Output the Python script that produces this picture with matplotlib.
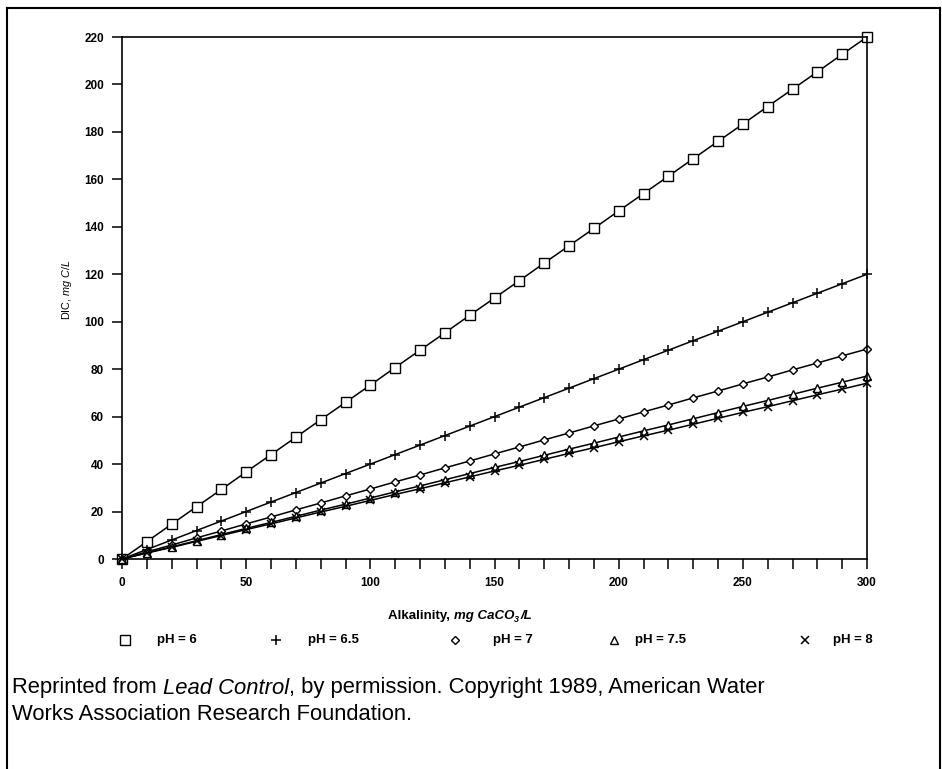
#!/usr/bin/env python3
"""DIC versus alkalinity at several pH values (line chart with markers)."""

import matplotlib

matplotlib.use("Agg")
import matplotlib.pyplot as plt
from matplotlib.lines import Line2D

plt.rcParams["font.family"] = ["Liberation Sans", "DejaVu Sans"]
plt.rcParams["mathtext.fontset"] = "custom"
plt.rcParams["mathtext.it"] = "Liberation Sans:italic"
plt.rcParams["mathtext.rm"] = "Liberation Sans"

# alkalinity, mg CaCO3/L
alkalinity = [0, 10, 20, 30, 40, 50, 60, 70, 80, 90, 100, 110, 120, 130, 140, 150,
              160, 170, 180, 190, 200, 210, 220, 230, 240, 250, 260, 270, 280, 290, 300]

# DIC, mg C/L
dic_ph6 = [0, 7.3, 14.7, 22.0, 29.3, 36.7, 44.0, 51.3, 58.7, 66.0, 73.3, 80.7, 88.0,
           95.3, 102.7, 110.0, 117.3, 124.7, 132.0, 139.3, 146.7, 154.0, 161.3, 168.7,
           176.0, 183.3, 190.7, 198.0, 205.3, 212.7, 220.0]
dic_ph65 = [0, 4.0, 8.0, 12.0, 16.0, 20.0, 24.0, 28.0, 32.0, 36.0, 40.0, 44.0, 48.0,
            52.0, 56.0, 60.0, 64.0, 68.0, 72.0, 76.0, 80.0, 84.0, 88.0, 92.0, 96.0,
            100.0, 104.0, 108.0, 112.0, 116.0, 120.0]
dic_ph7 = [0, 3.0, 5.9, 8.9, 11.8, 14.8, 17.7, 20.7, 23.6, 26.6, 29.5, 32.5, 35.4,
           38.4, 41.3, 44.3, 47.2, 50.2, 53.1, 56.1, 59.0, 62.0, 64.9, 67.9, 70.8,
           73.8, 76.7, 79.7, 82.6, 85.6, 88.5]
dic_ph75 = [0, 2.6, 5.1, 7.7, 10.3, 12.9, 15.4, 18.0, 20.6, 23.1, 25.7, 28.3, 30.8,
            33.4, 36.0, 38.6, 41.1, 43.7, 46.3, 48.8, 51.4, 54.0, 56.5, 59.1, 61.7,
            64.3, 66.8, 69.4, 72.0, 74.5, 77.1]
dic_ph8 = [0, 2.5, 4.9, 7.4, 9.9, 12.4, 14.8, 17.3, 19.8, 22.2, 24.7, 27.2, 29.6,
           32.1, 34.6, 37.1, 39.5, 42.0, 44.5, 46.9, 49.4, 51.9, 54.3, 56.8, 59.3,
           61.8, 64.2, 66.7, 69.2, 71.6, 74.1]

series_labels = ["pH = 6", "pH = 6.5", "pH = 7", "pH = 7.5", "pH = 8"]

W, H = 942, 769
fig = plt.figure(figsize=(W / 100, H / 100), dpi=100)


def fx(px):
    return px / W


def fy(py):
    return 1 - py / H


ax = fig.add_axes([fx(122), fy(559), fx(867 - 122), fy(37) - fy(559)])

styles = [
    dict(marker="s", ms=7, mfc="white", mew=1.0),
    dict(marker="+", ms=7, mew=1.1),
    dict(marker="D", ms=4.5, mfc="white", mew=1.0),
    dict(marker="^", ms=6, mfc="white", mew=1.0),
    dict(marker="x", ms=5.5, mew=1.1),
]
all_series = [dic_ph6, dic_ph65, dic_ph7, dic_ph75, dic_ph8]
for vals, st in zip(all_series, styles):
    ax.plot(alkalinity, vals, color="black", lw=1.1, mec="black", clip_on=False, **st)

ax.set_xlim(0, 300)
ax.set_ylim(0, 220)
ax.set_xticks(range(0, 301, 50))
ax.set_xticks(range(0, 301, 10), minor=True)
ax.set_yticks(range(0, 221, 20))
for sp in ax.spines.values():
    sp.set_linewidth(1.2)
ax.tick_params(axis="x", which="both", direction="out", length=7, width=1.1, pad=6)
ax.tick_params(axis="y", direction="out", length=7, width=1.1, pad=6)
for lbl in ax.get_xticklabels() + ax.get_yticklabels():
    lbl.set_fontsize(8.5)
    lbl.set_fontweight("bold")

# y label
fig.text(fx(67), fy(289), r"DIC, $mg\ C/L$", rotation=90, ha="center", va="center",
         fontsize=7.8)


def rich_text(parts, x, y, va="center"):
    """Place text pieces one after another starting at pixel (x, y)."""
    renderer = fig.canvas.get_renderer()
    cur = x
    for txt, kw in parts:
        dy = kw.pop("dy", 0)
        gap = kw.pop("gap", 0)
        t = fig.text(fx(cur), fy(y + dy), txt, ha="left", va=va, **kw)
        bb = t.get_window_extent(renderer=renderer)
        cur += bb.width + gap


bold_it = dict(fontsize=9.5, fontweight="bold", fontstyle="italic")
rich_text([
    ("Alkalinity, ", dict(fontsize=9.5, fontweight="bold")),
    ("mg CaCO", dict(bold_it)),
    ("3", dict(fontsize=6.5, fontweight="bold", fontstyle="italic", dy=3, gap=2)),
    ("/L", dict(bold_it)),
], 388, 616)

# legend row
leg_marker_x = [125, 276, 455, 614, 805]
leg_text_x = [157, 308, 493, 635, 833]
leg_y = 640
for st, lab, mx, tx in zip(styles, series_labels, leg_marker_x, leg_text_x):
    st2 = dict(st)
    st2["ms"] = st["ms"] * 1.0
    fig.add_artist(Line2D([fx(mx)], [fy(leg_y)], transform=fig.transFigure,
                          color="black", mec="black", ls="none", **st2))
    fig.text(fx(tx), fy(leg_y), lab, ha="left", va="center", fontsize=9.5,
             fontweight="bold")

# caption
cap = 15.8
rich_text([
    ("Reprinted from ", dict(fontsize=cap)),
    ("Lead Control", dict(fontsize=cap, fontstyle="italic")),
    (", by permission. Copyright 1989, American Water", dict(fontsize=cap)),
], 12, 688)
fig.text(fx(12), fy(715), "Works Association Research Foundation.", ha="left",
         va="center", fontsize=cap)

# outer frame of the scanned figure
for xs, ys in [([7, 7], [8, H]), ([7, 940], [8, 8]), ([940, 940], [8, H])]:
    fig.add_artist(Line2D([fx(v) for v in xs], [fy(v) for v in ys],
                          transform=fig.transFigure, color="black", lw=1.5))

fig.savefig("out.png", dpi=100)
